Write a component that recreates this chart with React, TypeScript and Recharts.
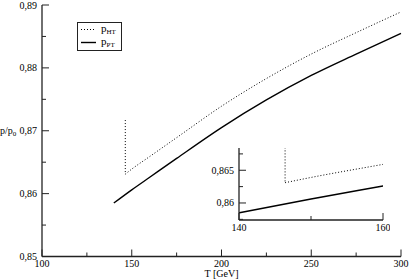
import { LineChart, Line, XAxis, YAxis, Legend } from 'recharts'

// T [GeV] and p/p0
const ptT = [140, 150, 160, 175, 200, 225, 250, 275, 300]
const ptP = [0.8585, 0.8606, 0.8626, 0.8656, 0.8705, 0.8749, 0.8788, 0.8822, 0.8855]

const htJumpT = [146.4, 146.4]
const htJumpP = [0.8717, 0.8631]

const htT = [146.4, 150, 160, 175, 200, 225, 250, 275, 300]
const htP = [0.8631, 0.8639, 0.8659, 0.8689, 0.8739, 0.8783, 0.8822, 0.8856, 0.8889]

const mainXTicks = [100, 125, 150, 175, 200, 225, 250, 275, 300]
const mainXMajor = [100, 150, 200, 250, 300]
const mainYTicks = [0.85, 0.855, 0.86, 0.865, 0.87, 0.875, 0.88, 0.885, 0.89]
const mainYMajor = [0.85, 0.86, 0.87, 0.88, 0.89]

const insetXTicks = [140, 150, 160]
const insetXMajor = [140, 160]
const insetYTicks = [0.8575, 0.86, 0.8625, 0.865, 0.8675]
const insetYMajor = [0.86, 0.865]

const toRows = (xs: number[], ys: number[]) => xs.map((T, i) => ({ T, p: ys[i] }))
const ptData = toRows(ptT, ptP)
const htJumpData = toRows(htJumpT, htJumpP)
const htData = toRows(htT, htP)

const FONT = '"Liberation Serif", Tinos, "Times New Roman", Times, "DejaVu Serif", "Noto Serif", serif'
const AXIS = '#222'
const txt = { fontFamily: FONT, fontSize: 10, fill: '#000' }
const comma = (v: number) => String(v).replace('.', ',')

// inward ticks, labels outside
function makeTick(side: 'bottom' | 'top' | 'left' | 'right', major: number[], labels: boolean) {
  return (props: any) => {
    const { x, y, payload } = props
    const v = payload.value
    const isMajor = major.some(m => Math.abs(m - v) < 1e-9)
    const len = isMajor ? 7 : 4
    let line
    if (side === 'bottom') line = <line x1={x} x2={x} y1={y} y2={y - len} stroke={AXIS} strokeWidth={1} />
    else if (side === 'top') line = <line x1={x} x2={x} y1={y} y2={y + len} stroke={AXIS} strokeWidth={1} />
    else if (side === 'left') line = <line x1={x} x2={x + len} y1={y} y2={y} stroke={AXIS} strokeWidth={1} />
    else line = <line x1={x} x2={x - len} y1={y} y2={y} stroke={AXIS} strokeWidth={1} />
    let label = null
    if (labels && isMajor) {
      if (side === 'bottom')
        label = <text x={x} y={y + 10.5} textAnchor="middle" style={txt}>{comma(v)}</text>
      else if (side === 'left')
        label = <text x={x - 5} y={y + 3.5} textAnchor="end" style={txt}>{comma(v)}</text>
    }
    return <g>{line}{label}</g>
  }
}

function LegendBox() {
  return (
    <svg width={46} height={30} style={{ display: 'block' }}>
      <rect x={0.5} y={0.5} width={44} height={28} fill="#fff" stroke={AXIS} strokeWidth={1} />
      <line x1={4} x2={19} y1={7.5} y2={7.5} stroke="#000" strokeWidth={1} strokeDasharray="1 2" />
      <line x1={4} x2={19} y1={20.5} y2={20.5} stroke="#000" strokeWidth={1.4} />
      <text x={24} y={10} style={{ ...txt, fontSize: 11 }}>
        p<tspan dy={2} style={{ fontSize: 7 }}>HT</tspan>
      </text>
      <text x={24} y={23} style={{ ...txt, fontSize: 11 }}>
        p<tspan dy={2} style={{ fontSize: 7 }}>PT</tspan>
      </text>
    </svg>
  )
}

export default function App() {
  return (
    <div style={{ position: 'fixed', left: 0, top: 0, width: 409, height: 280, background: '#fff' }}>
      <LineChart width={409} height={280} margin={{ top: 5, right: 8, bottom: 0, left: 0 }}>
        <XAxis
          xAxisId="b"
          dataKey="T"
          type="number"
          domain={[100, 300]}
          ticks={mainXTicks}
          interval={0}
          height={23.5}
          tickSize={0}
          tickMargin={0}
          tickLine={false}
          axisLine={{ stroke: AXIS, strokeWidth: 1.3 }}
          tick={makeTick('bottom', mainXMajor, true)}
          label={{
            content: (p: any) => (
              <text x={p.viewBox.x + p.viewBox.width / 2} y={277} textAnchor="middle" style={txt}>
                T [GeV]
              </text>
            ),
          }}
        />
        <XAxis
          xAxisId="t"
          orientation="top"
          type="number"
          domain={[100, 300]}
          ticks={mainXTicks}
          interval={0}
          height={0}
          tickSize={0}
          tickMargin={0}
          tickLine={false}
          axisLine={{ stroke: AXIS, strokeWidth: 1.3 }}
          tick={makeTick('top', mainXMajor, false)}
        />
        <YAxis
          yAxisId="l"
          type="number"
          domain={[0.85, 0.89]}
          ticks={mainYTicks}
          interval={0}
          width={42}
          tickSize={0}
          tickMargin={0}
          tickLine={false}
          axisLine={{ stroke: AXIS, strokeWidth: 1.3 }}
          tick={makeTick('left', mainYMajor, true)}
          label={{
            content: (p: any) => (
              <text x={0} y={p.viewBox.y + p.viewBox.height / 2 + 3.5} style={txt}>
                p/p<tspan dy={2} style={{ fontSize: 7 }}>0</tspan>
              </text>
            ),
          }}
        />
        <YAxis
          yAxisId="r"
          orientation="right"
          type="number"
          domain={[0.85, 0.89]}
          ticks={mainYTicks}
          interval={0}
          width={0}
          tickSize={0}
          tickMargin={0}
          tickLine={false}
          axisLine={{ stroke: AXIS, strokeWidth: 1.3 }}
          tick={makeTick('right', mainYMajor, false)}
        />
        <Legend
          layout="vertical"
          align="center"
          verticalAlign="middle"
          wrapperStyle={{ left: 77, top: 22, width: 46, height: 30 }}
          content={() => <LegendBox />}
        />
        <Line xAxisId="b" yAxisId="l" data={htJumpData} dataKey="p" type="linear" stroke="#000" strokeWidth={1} strokeDasharray="1 2" dot={false} isAnimationActive={false} legendType="none" />
        <Line xAxisId="b" yAxisId="l" data={htData} dataKey="p" type="monotone" stroke="#000" strokeWidth={1} strokeDasharray="1 2" dot={false} isAnimationActive={false} />
        <Line xAxisId="b" yAxisId="l" data={ptData} dataKey="p" type="monotone" stroke="#000" strokeWidth={1.4} dot={false} isAnimationActive={false} />
      </LineChart>

      <div style={{ position: 'absolute', left: 200, top: 140 }}>
        <div style={{ position: 'absolute', left: 39, top: 8, width: 144, height: 72, background: '#fff' }} />
        <LineChart width={190} height={95} margin={{ top: 8, right: 7, bottom: 0, left: 0 }}>
          <XAxis
            xAxisId="b"
            dataKey="T"
            type="number"
            domain={[140, 160]}
            allowDataOverflow
            ticks={insetXTicks}
            interval={0}
            height={15}
            tickSize={0}
            tickMargin={0}
            tickLine={false}
            axisLine={{ stroke: AXIS, strokeWidth: 1.3 }}
            tick={makeTick('bottom', insetXMajor, true)}
          />
          <XAxis
            xAxisId="t"
            orientation="top"
            type="number"
            domain={[140, 160]}
            ticks={insetXTicks}
            interval={0}
            height={0}
            tickSize={0}
            tickMargin={0}
            tickLine={false}
            axisLine={{ stroke: AXIS, strokeWidth: 1.3 }}
            tick={makeTick('top', insetXMajor, false)}
          />
          <YAxis
            yAxisId="l"
            type="number"
            domain={[0.8574, 0.8684]}
            allowDataOverflow
            ticks={insetYTicks}
            interval={0}
            width={39}
            tickSize={0}
            tickMargin={0}
            tickLine={false}
            axisLine={{ stroke: AXIS, strokeWidth: 1.3 }}
            tick={makeTick('left', insetYMajor, true)}
          />
          <YAxis
            yAxisId="r"
            orientation="right"
            type="number"
            domain={[0.8574, 0.8684]}
            ticks={insetYTicks}
            interval={0}
            width={0}
            tickSize={0}
            tickMargin={0}
            tickLine={false}
            axisLine={{ stroke: AXIS, strokeWidth: 1.3 }}
            tick={makeTick('right', insetYMajor, false)}
          />
          <Line xAxisId="b" yAxisId="l" data={htJumpData} dataKey="p" type="linear" stroke="#000" strokeWidth={1} strokeDasharray="1 2" dot={false} isAnimationActive={false} />
          <Line xAxisId="b" yAxisId="l" data={htData} dataKey="p" type="monotone" stroke="#000" strokeWidth={1} strokeDasharray="1 2" dot={false} isAnimationActive={false} />
          <Line xAxisId="b" yAxisId="l" data={ptData} dataKey="p" type="monotone" stroke="#000" strokeWidth={1.4} dot={false} isAnimationActive={false} />
        </LineChart>
      </div>
    </div>
  )
}
